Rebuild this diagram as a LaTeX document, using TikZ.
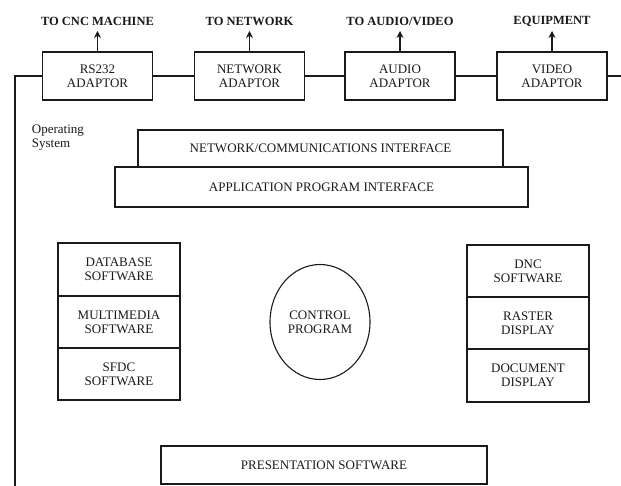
\documentclass[tikz,border=0pt]{standalone}
\usepackage{fontspec}
\setmainfont{Liberation Serif}
\usepackage{xcolor}
\usetikzlibrary{arrows.meta,positioning,shapes.geometric}
\definecolor{ink}{HTML}{1A1A1A}
\begin{document}
\begin{tikzpicture}[x=1pt,y=-1pt,>={Stealth[length=7pt,width=7pt]},line width=1.1pt,
  box/.style={draw=ink,outer sep=0pt,inner sep=1pt,align=center,font=\fontsize{13}{14}\selectfont,text=ink},
  adaptor/.style={box,minimum width=110,minimum height=48},
  stackbox/.style={box,minimum width=122,minimum height=52},
  wide/.style={box,minimum height=38},
  dest/.style={font=\fontsize{12.5}{13}\selectfont\bfseries,text=ink,anchor=south}]
\useasboundingbox (0,0) rectangle (621,486);
% adaptors along the top
\node[adaptor] (rs) at (97.5,76) {RS232\\ADAPTOR};
\node[adaptor] (net) at (249.5,76) {NETWORK\\ADAPTOR};
\node[adaptor] (aud) at (400,76) {AUDIO\\ADAPTOR};
\node[adaptor] (vid) at (552,76) {VIDEO\\ADAPTOR};
\coordinate (bus) at (15,76);
\coordinate (busend) at (15,486);
\coordinate (busright) at (621,76);
\draw[ink] (busend) -- (bus) -- (rs.west);
\draw[ink] (rs) -- (net); \draw[ink] (net) -- (aud); \draw[ink] (aud) -- (vid);
\draw[ink] (vid.east) -- (busright);
\foreach \a/\t in {rs/{TO CNC MACHINE},net/{TO NETWORK},aud/{TO AUDIO/VIDEO},vid/{EQUIPMENT}} {
  \coordinate (\a up) at ([yshift=21pt]\a.north);
  \draw[->,ink] (\a.north) -- (\a up);
  \node[dest] (\a lbl) at ([yshift=1pt]\a up) {\t};
}
\node[anchor=north west,align=left,font=\fontsize{13}{14}\selectfont,text=ink] (os) at (28,121) {Operating\\System};
% interface layers
\node[box,minimum width=365,minimum height=37] (nci) at (320.5,148.5) {NETWORK/COMMUNICATIONS INTERFACE};
\node[box,minimum width=413,minimum height=40] (api) at (321.5,187) {APPLICATION PROGRAM INTERFACE};
% software stacks
\node[stackbox,minimum height=53] (db) at (119,269.5) {DATABASE\\SOFTWARE};
\node[stackbox,below=0pt of db] (mm) {MULTIMEDIA\\SOFTWARE};
\node[stackbox,below=0pt of mm] (sfdc) {SFDC\\SOFTWARE};
\node[ellipse,box,minimum width=100,minimum height=115] (ctl) at (320,322) {CONTROL\\PROGRAM};
\node[stackbox] (dnc) at (528,271) {DNC\\SOFTWARE};
\node[stackbox,below=0pt of dnc] (rast) {RASTER\\DISPLAY};
\node[stackbox,below=0pt of rast,minimum height=53] (doc) {DOCUMENT\\DISPLAY};
\node[wide,minimum width=326] (pres) at (324,465) {PRESENTATION SOFTWARE};
\end{tikzpicture}
\end{document}
